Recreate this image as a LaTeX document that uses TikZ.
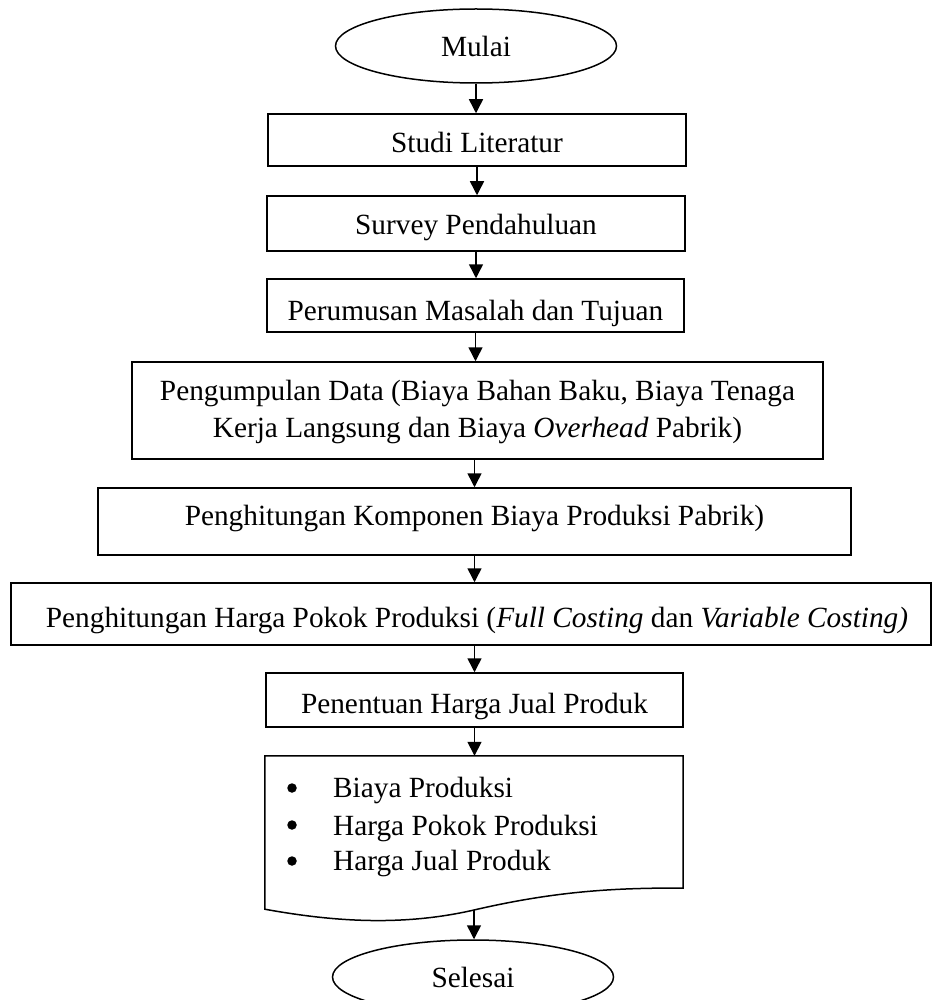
\documentclass[tikz,border=0pt]{standalone}
\usepackage{fontspec}
\setmainfont{Liberation Serif}
\usetikzlibrary{arrows.meta,shapes.geometric}
\begin{document}
\begin{tikzpicture}[x=1pt,y=-1pt,
  every node/.style={font=\fontsize{29.3}{37}\selectfont},
  term/.style={draw, ellipse, line width=1.5pt, minimum width=281pt, minimum height=74pt, inner sep=0pt},
  procbox/.style={draw, rectangle, line width=1.5pt, inner sep=0pt},
  lbl/.style={inner sep=0pt, align=center},
  dot/.style={circle, fill, inner sep=0pt, minimum size=9.5pt},
  arr/.style={line width=1.5pt, -{Triangle[length=14pt,width=14pt]}}]
\useasboundingbox (0,0) rectangle (933,1000);
% terminals
\node[term] (mulai) at (476,46) {Mulai};
% process boxes
\node[procbox, minimum width=418pt, minimum height=52pt] (studi) at (477,140) {};
\node[procbox, minimum width=418pt, minimum height=55pt] (survey) at (476,223.5) {};
\node[procbox, minimum width=417pt, minimum height=53pt] (rumus) at (475.5,305.5) {};
\node[procbox, minimum width=691pt, minimum height=97pt] (kumpul) at (477.5,410.5) {};
\node[procbox, minimum width=753pt, minimum height=67pt] (komp) at (474.5,521.5) {};
\node[procbox, minimum width=920pt, minimum height=62pt] (hpp) at (471,614) {};
\node[procbox, minimum width=417pt, minimum height=54pt] (jual) at (474.5,700) {};
% texts
\node[lbl, anchor=base] (tstudi) at (477,153) {Studi Literatur};
\node[lbl, anchor=base] (tsurvey) at (476,235) {Survey Pendahuluan};
\node[lbl, anchor=base] (trumus) at (475.5,320) {Perumusan Masalah dan Tujuan};
\node[lbl] (tkumpul) at (477.5,411.5) {Pengumpulan Data (Biaya Bahan Baku, Biaya Tenaga\\Kerja Langsung dan Biaya \textit{Overhead} Pabrik)};
\node[lbl, anchor=base] (tkomp) at (474.5,525) {Penghitungan Komponen Biaya Produksi Pabrik)};
\node[lbl, anchor=base] (thpp) at (477,627) {Penghitungan Harga Pokok Produksi (\textit{Full Costing} dan \textit{Variable Costing)}};
\node[lbl, anchor=base] (tjual) at (474.5,713) {Penentuan Harga Jual Produk};
% document shape
\node[minimum width=418pt, minimum height=153pt, inner sep=0pt] (doc) at (474,832.5) {};
\draw[line width=1.5pt] (doc.north west) -- (doc.north east) -- (683,888)
  .. controls (620,888) and (560,890) .. (474,910)
  .. controls (400,927) and (330,921) .. (doc.south west) -- cycle;
\coordinate (docbot) at (474,910);
\node[dot] (b1) at (292,788) {};
\node[dot] (b2) at (292,825) {};
\node[dot] (b3) at (292,861) {};
\node[lbl, anchor=base west] (i1) at (333,797) {Biaya Produksi};
\node[lbl, anchor=base west] (i2) at (333,835) {Harga Pokok Produksi};
\node[lbl, anchor=base west] (i3) at (333,870) {Harga Jual Produk};
\node[term] (selesai) at (473,977) {Selesai};
% connectors
\draw[arr] (mulai.south) -- (mulai.south |- studi.north);
\draw[arr] (studi.south) -- (studi.south |- survey.north);
\draw[arr] (survey.south) -- (survey.south |- rumus.north);
\draw[arr] (rumus.south) -- (rumus.south |- kumpul.north);
\draw[arr] (kumpul.south -| komp.center) -- (komp.north);
\draw[arr] (komp.south) -- (komp.south |- hpp.north);
\draw[arr] (komp.south |- hpp.south) -- (komp.south |- jual.north);
\draw[arr] (jual.south) -- (jual.south |- doc.north);
\draw[arr] (docbot) -- (docbot |- selesai.north);
\end{tikzpicture}
\end{document}
